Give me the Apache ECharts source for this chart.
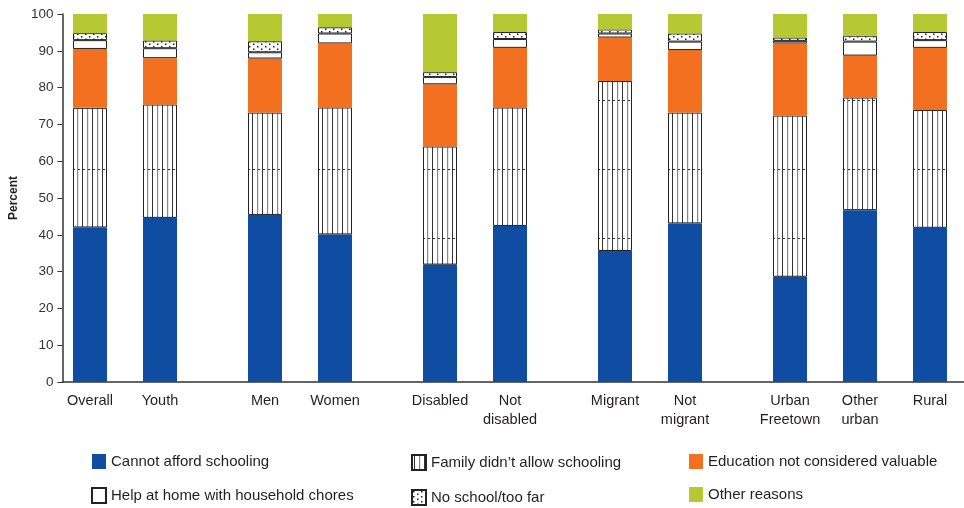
<!DOCTYPE html>
<html>
<head>
<meta charset="utf-8">
<script src="https://cdn.jsdelivr.net/npm/echarts@6/dist/echarts.min.js"></script>
<style>
  html, body { margin: 0; padding: 0; background: #fff; }
  #chart { width: 964px; height: 508px; }
</style>
</head>
<body>
<div id="chart"></div>
<script>
// groups of categories, a wider gap goes between groups
const groups = [
  ['Overall', 'Youth'],
  ['Men', 'Women'],
  ['Disabled', 'Not\ndisabled'],
  ['Migrant', 'Not\nmigrant'],
  ['Urban\nFreetown', 'Other\nurban', 'Rural']
]
const seriesNames = [
  'Cannot afford schooling',
  "Family didn\u2019t allow schooling",
  'Education not considered valuable',
  'Help at home with household chores',
  'No school/too far',
  'Other reasons'
]
// values in category order: Overall, Youth, Men, Women, Disabled, Not disabled,
// Migrant, Not migrant, Urban Freetown, Other urban, Rural
const cannotAfford = [42.0, 44.6, 45.4, 40.1, 31.9, 42.4, 35.6, 43.1, 28.6, 46.7, 41.9]
const familyNotAllow = [32.5, 30.8, 27.8, 34.5, 32.1, 32.2, 46.2, 30.1, 43.8, 30.6, 32.0]
const eduNotValuable = [16.0, 12.6, 14.7, 17.4, 16.9, 16.2, 11.8, 17.0, 19.6, 11.4, 16.9]
const householdChores = [2.4, 2.7, 1.7, 2.7, 2.0, 2.4, 1.1, 2.3, 0.7, 3.8, 2.1]
const noSchool = [1.9, 2.1, 3.0, 1.7, 1.3, 1.9, 1.1, 2.2, 0.9, 1.6, 2.2]
const otherReasons = [5.2, 7.2, 7.4, 3.6, 15.8, 4.9, 4.2, 5.3, 6.4, 5.9, 4.9]
const yTicks = [0, 10, 20, 30, 40, 50, 60, 70, 80, 90, 100]

// build the category axis with blank slots between bars and groups
const categories = []
const slotIndex = []
groups.forEach((g, gi) => {
  if (gi > 0) { categories.push('', '') }
  g.forEach((name, i) => {
    if (i > 0) categories.push('')
    slotIndex.push(categories.length)
    categories.push(name)
  })
})
function spread(values) {
  const out = categories.map(() => '-')
  values.forEach((v, i) => { out[slotIndex[i]] = v })
  return out
}

// vertical stripes, alternating dark and grey, with the faint dashed seam of the original
function hatchPattern() {
  const c = document.createElement('canvas')
  c.width = 10
  c.height = 69
  const ctx = c.getContext('2d')
  ctx.fillStyle = '#fff'
  ctx.fillRect(0, 0, 10, 69)
  ctx.fillStyle = '#333'
  ctx.fillRect(2, 0, 1, 69)
  ctx.fillStyle = '#888'
  ctx.fillRect(7, 0, 1.2, 69)
  ctx.fillStyle = '#333'
  ctx.fillRect(3, 31, 2, 1)
  ctx.fillRect(8, 31, 2, 1)
  return c
}
function dotPattern() {
  const c = document.createElement('canvas')
  c.width = 8
  c.height = 5
  const ctx = c.getContext('2d')
  ctx.fillStyle = '#fff'
  ctx.fillRect(0, 0, 8, 5)
  ctx.fillStyle = '#222'
  ctx.fillRect(1, 1, 1.5, 1.5)
  ctx.fillRect(5, 3.5, 1.5, 1.5)
  return c
}

const fills = [
  { color: '#0e4da1' },
  { color: { image: hatchPattern(), repeat: 'repeat' }, borderColor: '#222', borderWidth: 1 },
  { color: '#f37021' },
  { color: '#ffffff', borderColor: '#222', borderWidth: 1 },
  { color: { image: dotPattern(), repeat: 'repeat' }, borderColor: '#222', borderWidth: 1 },
  { color: '#b7c932' }
]
const values = [cannotAfford, familyNotAllow, eduNotValuable, householdChores, noSchool, otherReasons]

const font = 'Liberation Sans'
const chart = echarts.init(document.getElementById('chart'))
const legendBase = {
  orient: 'vertical',
  top: 454,
  padding: 0,
  itemWidth: 14,
  itemHeight: 15,
  itemGap: 18,
  icon: 'rect',
  selectedMode: false,
  textStyle: { fontFamily: font, fontSize: 15, color: '#231f20' }
}
const option = {
  animation: false,
  backgroundColor: '#fff',
  grid: [
    { left: 72.5, right: 16.5, top: 14, bottom: 126 },
    { left: 57, right: 0, top: 14, bottom: 126 }
  ],
  legend: [
    Object.assign({ left: 91, data: [seriesNames[0], seriesNames[3]] }, legendBase),
    Object.assign({ left: 411, data: [seriesNames[1], seriesNames[4]] }, legendBase),
    Object.assign({ left: 689, data: [seriesNames[2], seriesNames[5]] }, legendBase)
  ],
  xAxis: [
    {
      type: 'category',
      gridIndex: 0,
      data: categories,
      axisLine: { show: false },
      axisTick: { show: false },
      axisLabel: {
        interval: 0,
        margin: 9,
        fontFamily: font,
        fontSize: 14.5,
        lineHeight: 19,
        color: '#231f20'
      }
    },
    {
      type: 'value',
      gridIndex: 1,
      min: 0,
      max: 1,
      axisLine: { show: true, lineStyle: { color: '#333', width: 1.5 } },
      axisTick: { show: false },
      axisLabel: { show: false },
      splitLine: { show: false }
    }
  ],
  yAxis: [
    { type: 'value', gridIndex: 0, min: 0, max: 100, show: false },
    {
      type: 'value',
      gridIndex: 1,
      min: yTicks[0],
      max: yTicks[yTicks.length - 1],
      interval: 10,
      name: 'Percent',
      nameLocation: 'middle',
      nameGap: 37,
      nameTextStyle: { fontFamily: font, fontSize: 12, fontWeight: 'bold', color: '#231f20' },
      axisLine: { show: true, lineStyle: { color: '#333', width: 1.5 } },
      axisTick: { show: true, length: 5, lineStyle: { color: '#333' } },
      axisLabel: { fontFamily: font, fontSize: 13.5, color: '#333', margin: 9 },
      splitLine: { show: false }
    }
  ],
  series: seriesNames.map((name, i) => ({
    name: name,
    type: 'bar',
    stack: 'total',
    xAxisIndex: 0,
    yAxisIndex: 0,
    barWidth: 34,
    itemStyle: fills[i],
    emphasis: { disabled: true },
    data: spread(values[i])
  }))
}
chart.setOption(option)
</script>
</body>
</html>
